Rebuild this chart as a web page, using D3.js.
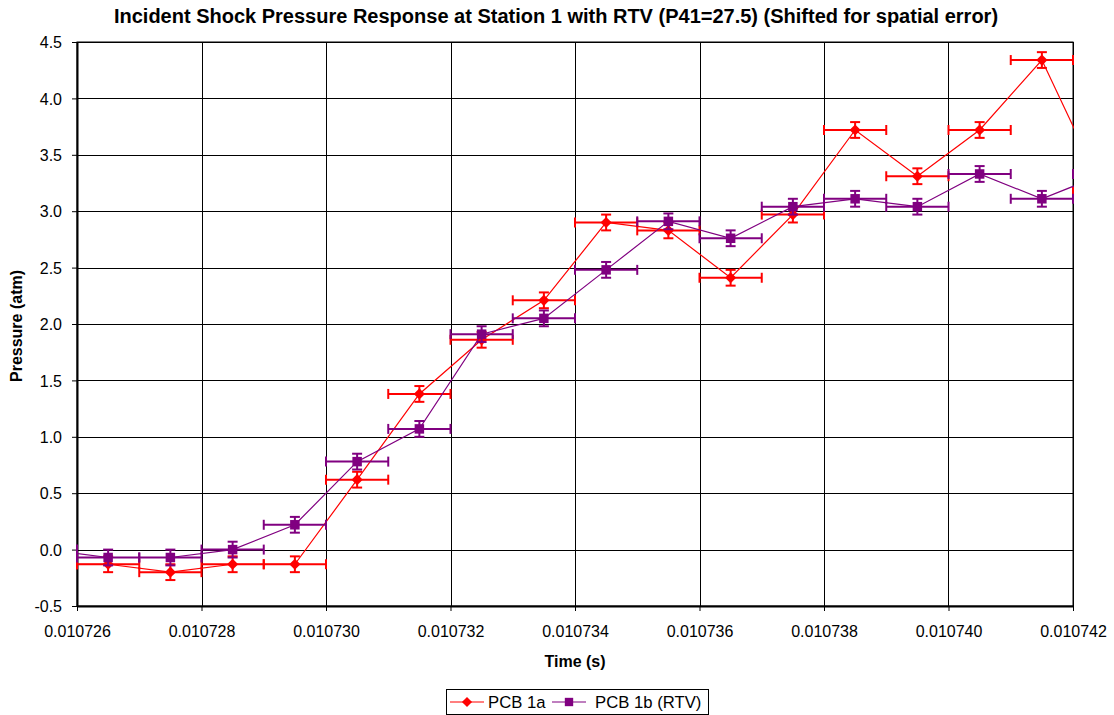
<!DOCTYPE html>
<html>
<head>
<meta charset="utf-8">
<script src="https://cdn.jsdelivr.net/npm/d3@7"></script>
<style>
  body { margin: 0; background: #fff; }
  text { font-family: "Liberation Sans", Arial, sans-serif; }
</style>
</head>
<body>
<svg id="chart"></svg>
<script>
    // data
    const times = [0.0107255, 0.0107265, 0.0107275, 0.0107285, 0.0107295, 0.0107305,
      0.0107315, 0.0107325, 0.0107335, 0.0107345, 0.0107355, 0.0107365,
      0.0107375, 0.0107385, 0.0107395, 0.0107405, 0.0107415, 0.0107425];
    const pcb1a = [-0.13, -0.13, -0.20, -0.13, -0.13, 0.62, 1.38, 1.86, 2.21,
      2.90, 2.83, 2.41, 2.97, 3.72, 3.31, 3.72, 4.34, 3.17];
    const pcb1b = [0.00, -0.07, -0.07, 0.00, 0.22, 0.78, 1.07, 1.91, 2.05,
      2.48, 2.91, 2.76, 3.04, 3.11, 3.04, 3.33, 3.11, 3.33];
    const timeErr = 0.0000005;
    const pressureErr = 0.07;
    const xTicks = [0.010726, 0.010728, 0.010730, 0.010732, 0.010734, 0.010736, 0.010738, 0.010740, 0.010742];
    const yTicks = [-0.5, 0.0, 0.5, 1.0, 1.5, 2.0, 2.5, 3.0, 3.5, 4.0, 4.5];
    const seriesNames = ["PCB 1a", "PCB 1b (RTV)"];
    const seriesColors = ["#ff0000", "#800080"];

    const margin = { top: 42, right: 41, bottom: 109, left: 77 };
    const width = 1114 - margin.left - margin.right;
    const height = 715 - margin.top - margin.bottom;

    const x = d3.scaleLinear().domain([0.010726, 0.010742]).range([0, width]);
    const y = d3.scaleLinear().domain([-0.5, 4.5]).range([height, 0]);

    const root = d3.select("#chart")
      .attr("width", 1114)
      .attr("height", 715);

    root.append("text")
      .attr("x", 556)
      .attr("y", 23)
      .attr("text-anchor", "middle")
      .style("font-size", "20px")
      .style("font-weight", "bold")
      .text("Incident Shock Pressure Response at Station 1 with RTV (P41=27.5) (Shifted for spatial error)");

    const svg = root.append("g")
      .attr("transform", "translate(" + margin.left + "," + margin.top + ")");

    svg.append("defs").append("clipPath")
      .attr("id", "plot-clip")
      .append("rect")
      .attr("x", -1).attr("y", -1)
      .attr("width", width + 2).attr("height", height + 2);

    // gridlines
    svg.append("g")
      .selectAll("line.hgrid")
      .data(yTicks)
      .join("line")
      .attr("x1", 0).attr("x2", width)
      .attr("y1", d => Math.round(y(d)) + 0.5).attr("y2", d => Math.round(y(d)) + 0.5)
      .attr("stroke", "#000").attr("stroke-width", 1);
    svg.append("g")
      .selectAll("line.vgrid")
      .data(xTicks)
      .join("line")
      .attr("y1", 0).attr("y2", height)
      .attr("x1", d => Math.round(x(d)) + 0.5).attr("x2", d => Math.round(x(d)) + 0.5)
      .attr("stroke", "#000").attr("stroke-width", 1);

    // axes
    const xAxis = d3.axisBottom(x).tickValues(xTicks).tickFormat(d => d.toFixed(6)).tickSize(5).tickSizeOuter(0);
    const yAxis = d3.axisLeft(y).tickValues(yTicks).tickFormat(d => d.toFixed(1)).tickSize(5).tickSizeOuter(0);

    const gx = svg.append("g")
      .attr("transform", "translate(0," + height + ")")
      .call(xAxis);
    const gy = svg.append("g").call(yAxis);
    [gx, gy].forEach(g => {
      g.select(".domain").attr("stroke", "#000").attr("stroke-width", 2);
      g.selectAll(".tick line").attr("stroke", "#000");
      g.selectAll(".tick text").style("font-size", "16px").attr("fill", "#000")
        .style("font-family", "'Liberation Sans', Arial, sans-serif");
    });
    gx.selectAll(".tick text").attr("y", 31).attr("dy", 0);
    gy.selectAll(".tick text").attr("x", -15).attr("dy", "0.36em");

    svg.append("rect")
      .attr("width", width).attr("height", height)
      .attr("fill", "none").attr("stroke", "#000").attr("stroke-width", 1);

    // axis titles
    svg.append("text")
      .attr("x", width / 2)
      .attr("y", height + 61)
      .attr("text-anchor", "middle")
      .style("font-size", "16px").style("font-weight", "bold")
      .text("Time (s)");
    svg.append("text")
      .attr("transform", "translate(-55," + (height / 2 + 2) + ") rotate(-90)")
      .attr("text-anchor", "middle")
      .style("font-size", "16px").style("font-weight", "bold")
      .text("Pressure (atm)");

    const plot = svg.append("g").attr("clip-path", "url(#plot-clip)");

    const line = d3.line()
      .x(d => x(d.t))
      .y(d => y(d.v));

    const series = [pcb1a, pcb1b].map((vals, i) => ({
      name: seriesNames[i],
      color: seriesColors[i],
      points: vals.map((v, j) => ({ t: times[j], v: v }))
    }));

    const markerPath = (i, size) => d3.symbol()
      .type(i === 0 ? d3.symbolDiamond2 : d3.symbolSquare)
      .size(size)();

    series.forEach((s, i) => {
      const g = plot.append("g");
      const cap = 5;

      // horizontal error bars
      g.selectAll("line.xerr")
        .data(s.points)
        .join("line")
        .attr("x1", d => x(d.t - timeErr)).attr("x2", d => x(d.t + timeErr))
        .attr("y1", d => y(d.v)).attr("y2", d => y(d.v))
        .attr("stroke", s.color).attr("stroke-width", 2);
      g.selectAll("line.xcapl")
        .data(s.points)
        .join("line")
        .attr("x1", d => x(d.t - timeErr)).attr("x2", d => x(d.t - timeErr))
        .attr("y1", d => y(d.v) - cap).attr("y2", d => y(d.v) + cap)
        .attr("stroke", s.color).attr("stroke-width", 2);
      g.selectAll("line.xcapr")
        .data(s.points)
        .join("line")
        .attr("x1", d => x(d.t + timeErr)).attr("x2", d => x(d.t + timeErr))
        .attr("y1", d => y(d.v) - cap).attr("y2", d => y(d.v) + cap)
        .attr("stroke", s.color).attr("stroke-width", 2);

      // vertical error bars
      g.selectAll("line.yerr")
        .data(s.points)
        .join("line")
        .attr("x1", d => x(d.t)).attr("x2", d => x(d.t))
        .attr("y1", d => y(d.v - pressureErr)).attr("y2", d => y(d.v + pressureErr))
        .attr("stroke", s.color).attr("stroke-width", 2);
      g.selectAll("line.ycapt")
        .data(s.points)
        .join("line")
        .attr("x1", d => x(d.t) - cap).attr("x2", d => x(d.t) + cap)
        .attr("y1", d => y(d.v + pressureErr)).attr("y2", d => y(d.v + pressureErr))
        .attr("stroke", s.color).attr("stroke-width", 2);
      g.selectAll("line.ycapb")
        .data(s.points)
        .join("line")
        .attr("x1", d => x(d.t) - cap).attr("x2", d => x(d.t) + cap)
        .attr("y1", d => y(d.v - pressureErr)).attr("y2", d => y(d.v - pressureErr))
        .attr("stroke", s.color).attr("stroke-width", 2);

      g.append("path")
        .datum(s.points)
        .attr("fill", "none")
        .attr("stroke", s.color)
        .attr("stroke-width", 1.2)
        .attr("d", line);

      g.selectAll("path.marker")
        .data(s.points)
        .join("path")
        .attr("transform", d => "translate(" + x(d.t) + "," + y(d.v) + ")")
        .attr("d", markerPath(i, i === 0 ? 80 : 90))
        .attr("fill", s.color);
    });

    // legend
    const legend = root.append("g")
      .attr("class", "legend")
      .attr("transform", "translate(446,689)");
    legend.append("rect")
      .attr("x", 0.5).attr("y", 0.5)
      .attr("width", 262).attr("height", 25)
      .attr("fill", "#fff").attr("stroke", "#000");
    const legendItems = [
      { x: 4, textX: 42 },
      { x: 106, textX: 149 }
    ];
    series.forEach((s, i) => {
      const item = legend.append("g").attr("transform", "translate(" + legendItems[i].x + ",13)");
      item.append("line")
        .attr("x1", 0).attr("x2", 34)
        .attr("stroke", s.color).attr("stroke-width", 1.2);
      item.append("path")
        .attr("transform", "translate(17,0)")
        .attr("d", markerPath(i, i === 0 ? 65 : 70))
        .attr("fill", s.color);
      legend.append("text")
        .attr("x", legendItems[i].textX)
        .attr("y", 13)
        .attr("dy", "0.36em")
        .style("font-size", "16.7px")
        .text(s.name);
    });
</script>
</body>
</html>
